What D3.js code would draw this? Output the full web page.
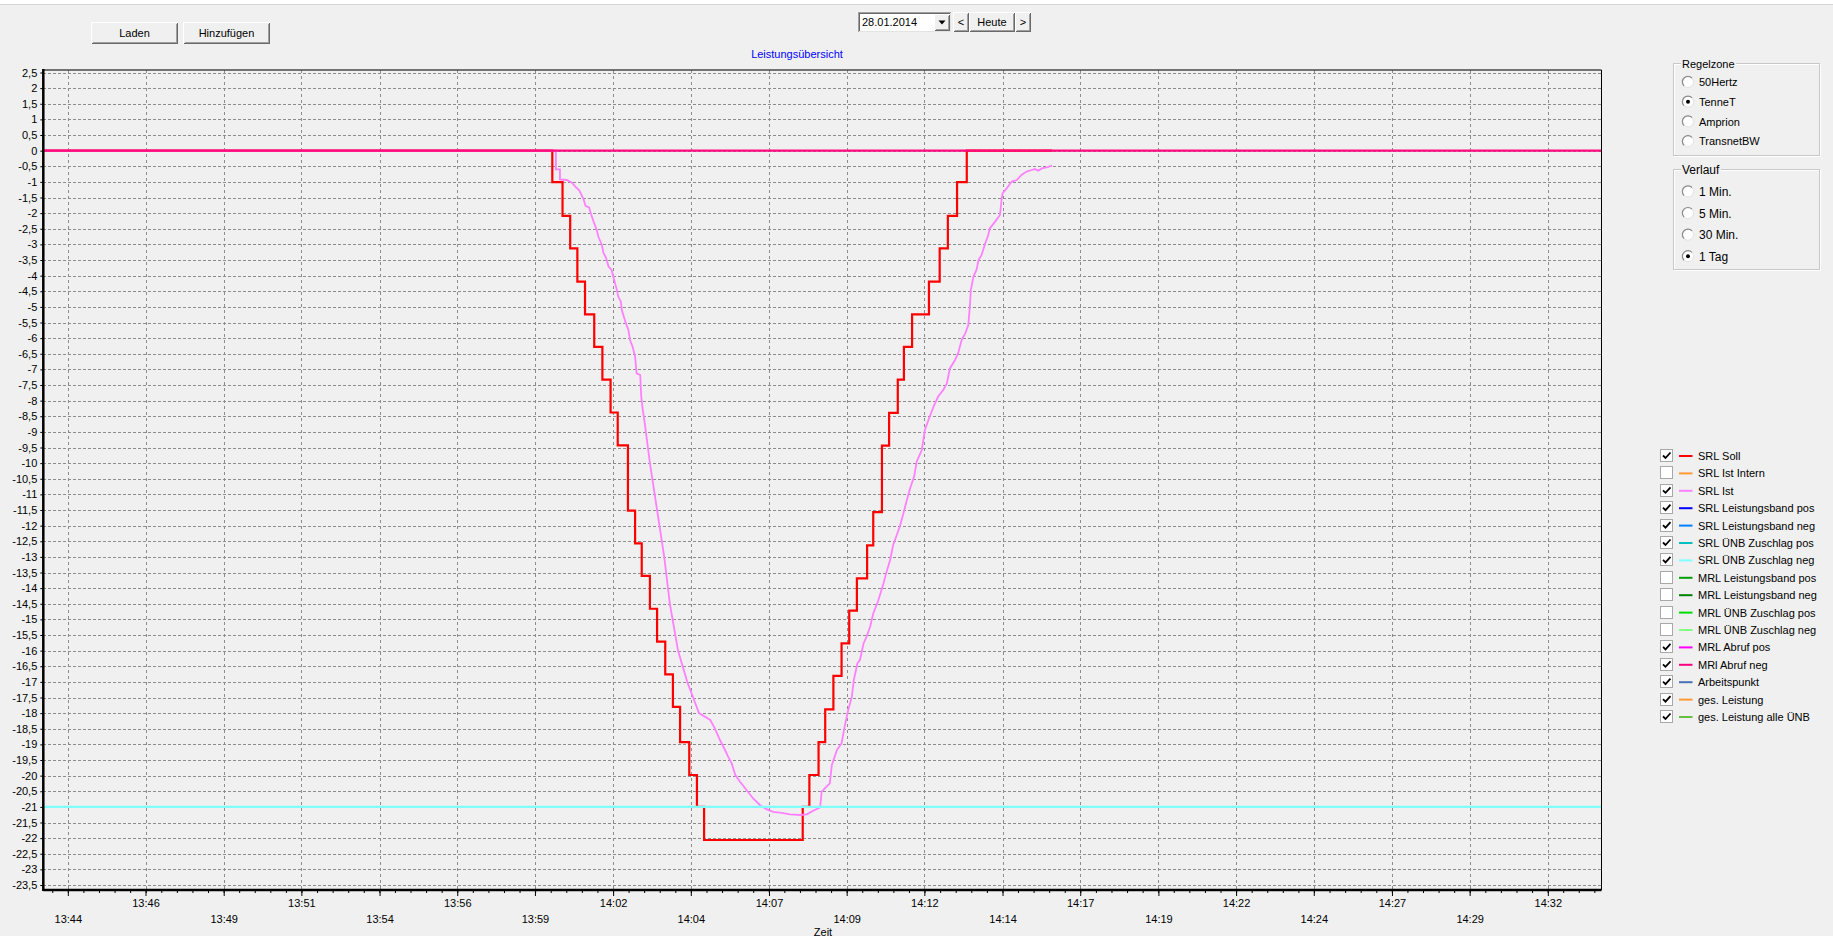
<!DOCTYPE html>
<html>
<head>
<meta charset="utf-8">
<script src="https://cdnjs.cloudflare.com/ajax/libs/d3/7.8.5/d3.min.js"></script>
<style>
body { margin: 0; background: #f0f0f0; overflow: hidden; }
svg text { font-family: "Liberation Sans", Arial, sans-serif; font-size: 11px; fill: #000; }
</style>
</head>
<body>
<div class="chart"></div>
<script>
// ---- data (times = seconds after 13:00:00 on 28.01.2014) ----
var sollTime = [2607, 3603, 3623, 3638, 3652, 3667, 3685, 3701, 3717, 3731, 3751, 3765, 3778, 3794, 3808, 3824, 3839, 3853, 3871, 3886, 3900,
	4093, 4106, 4124, 4137, 4153, 4169, 4184, 4199, 4219, 4231, 4248, 4262, 4279, 4291, 4307, 4340, 4361, 4377, 4395, 4414, 4581];
var sollValue = [0, -1.01, -2.09, -3.13, -4.19, -5.24, -6.28, -7.33, -8.38, -9.43, -11.52, -12.57, -13.61, -14.66, -15.71, -16.76, -17.8, -18.93, -19.98, -21.0, -22.06,
	-21.0, -19.98, -18.93, -17.88, -16.81, -15.77, -14.72, -13.69, -12.63, -11.57, -9.44, -8.39, -7.33, -6.28, -5.24, -4.19, -3.13, -2.09, -1.01, 0, 0];

var istTime = [2607, 3610, 3610, 3618, 3618, 3631, 3641, 3648, 3656, 3664, 3668, 3675, 3679, 3685, 3690, 3693, 3700, 3703, 3708, 3713,
	3719, 3724, 3729, 3732, 3737, 3739, 3747, 3752, 3755, 3760, 3765, 3768, 3775, 3777, 3780, 3783, 3794, 3808, 3822, 3833,
	3849, 3867, 3890, 3912, 3921, 3931, 3941, 3947, 3954, 3961, 3970, 3983, 3996, 4009, 4023, 4035, 4052, 4068, 4088, 4101,
	4114, 4127, 4130, 4146, 4150, 4160, 4169, 4175, 4182, 4189, 4193, 4200, 4205, 4212, 4218, 4225, 4231, 4241, 4251, 4257,
	4264, 4270, 4277, 4283, 4290, 4296, 4303, 4311, 4316, 4326, 4332, 4339, 4349, 4358, 4368, 4375, 4381, 4391, 4397, 4404,
	4411, 4417, 4420, 4422, 4427, 4433, 4437, 4443, 4450, 4456, 4459, 4469, 4479, 4482, 4484, 4492, 4502, 4512, 4521, 4531,
	4541, 4547, 4554, 4561, 4570, 4581];
var istValue = [0, 0, -0.6, -0.6, -0.92, -0.94, -1.02, -1.15, -1.28, -1.55, -1.77, -1.82, -2.04, -2.33, -2.54, -2.75, -3.02, -3.27, -3.42, -3.71,
	-3.82, -4.14, -4.44, -4.67, -4.83, -5.1, -5.53, -5.74, -6.06, -6.27, -6.59, -7.13, -7.18, -7.87, -8.3, -8.62, -10, -11.5, -13, -14.5,
	-16, -17, -18, -18.22, -18.49, -18.86, -19.18, -19.39, -19.61, -19.98, -20.19, -20.46, -20.73, -20.94, -21.08, -21.16, -21.19, -21.24, -21.26, -21.24,
	-21.12, -21.02, -20.51, -20.25, -19.66, -19.18, -18.97, -18.43, -17.9, -17.48, -16.94, -16.41, -16.3, -15.77, -15.55, -15.23, -14.81, -14.39, -13.85, -13.48,
	-13.1, -12.62, -12.3, -12.03, -11.61, -11.23, -10.81, -10.43, -9.95, -9.58, -8.94, -8.62, -8.19, -7.87, -7.66, -7.45, -6.97, -6.7, -6.49, -6.06,
	-5.85, -5.58, -4.99, -4.46, -4.03, -3.82, -3.5, -3.34, -2.97, -2.7, -2.49, -2.28, -2.06, -1.58, -1.37, -1.21, -0.99, -0.94, -0.78, -0.67,
	-0.62, -0.59, -0.64, -0.57, -0.54, -0.48];

var zuschlagNegTime = [2607, 5656];
var zuschlagNegValue = [-21, -21];
var abrufNegTime = [2607, 5656];
var abrufNegValue = [0, 0];

var xTickTime = [2655, 2807, 2960, 3112, 3265, 3417, 3569, 3722, 3874, 4027, 4179, 4331, 4484, 4636, 4789, 4941, 5093, 5246, 5398, 5551];
var xTickLabels = ["13:44", "13:46", "13:49", "13:51", "13:54", "13:56", "13:59", "14:02", "14:04", "14:07",
	"14:09", "14:12", "14:14", "14:17", "14:19", "14:22", "14:24", "14:27", "14:29", "14:32"];

var legendNames = ["SRL Soll", "SRL Ist Intern", "SRL Ist", "SRL Leistungsband pos", "SRL Leistungsband neg",
	"SRL ÜNB Zuschlag pos", "SRL ÜNB Zuschlag neg", "MRL Leistungsband pos", "MRL Leistungsband neg",
	"MRL ÜNB Zuschlag pos", "MRL ÜNB Zuschlag neg", "MRL Abruf pos", "MRl Abruf neg", "Arbeitspunkt",
	"ges. Leistung", "ges. Leistung alle ÜNB"];
var legendChecked = [1, 0, 1, 1, 1, 1, 1, 0, 0, 0, 0, 1, 1, 1, 1, 1];

var regelzonen = ["50Hertz", "TenneT", "Amprion", "TransnetBW"];
var verlaufOptions = ["1 Min.", "5 Min.", "30 Min.", "1 Tag"];

// ---- styles ----
var legendColors = ["#ff0000", "#ff9933", "#ff80ff", "#0000ff", "#0080ff", "#00c0c0", "#80ffff", "#00a000",
	"#008000", "#00dd00", "#80ff80", "#ff00ff", "#ff0080", "#4a6fb5", "#ff9933", "#66c040"];

var W = 1833, H = 936;
var plot = {left: 43.3, right: 1601.5, top: 70, bottom: 890};
var base = new Date(2014, 0, 28, 13, 0, 0);
function sec(s) { return new Date(base.getTime() + s * 1000); }

var svg = d3.select(".chart")
	.append("svg")
	.attr("width", W)
	.attr("height", H);

svg.append("rect").attr("width", W).attr("height", H).attr("fill", "#f0f0f0");
// window top strip
svg.append("rect").attr("width", W).attr("height", 4).attr("fill", "#ffffff");
svg.append("line").attr("x1", 0).attr("x2", W).attr("y1", 4.5).attr("y2", 4.5)
	.attr("stroke", "#d4d4d4");

var x = d3.scaleTime()
	.domain([sec(2607), sec(5656)])
	.range([plot.left, plot.right]);

var y = d3.scaleLinear()
	.domain([-23.5, 2.5])
	.range([885, 72.5]);

var yTicks = d3.range(5, -48, -1).map(function(k) { return k / 2; });

// grid
var grid = svg.append("g").attr("shape-rendering", "crispEdges");
grid.selectAll(".hgrid").data(yTicks).join("line")
	.attr("class", "hgrid")
	.attr("x1", plot.left).attr("x2", plot.right)
	.attr("y1", function(d) { return Math.round(y(d)) + 0.5; })
	.attr("y2", function(d) { return Math.round(y(d)) + 0.5; })
	.attr("stroke", "#8c8c8c")
	.attr("stroke-dasharray", "3,2");
grid.selectAll(".vgrid").data(xTickTime).join("line")
	.attr("class", "vgrid")
	.attr("x1", function(d) { return Math.round(x(sec(d))) + 0.5; })
	.attr("x2", function(d) { return Math.round(x(sec(d))) + 0.5; })
	.attr("y1", plot.top).attr("y2", plot.bottom)
	.attr("stroke", "#8c8c8c")
	.attr("stroke-dasharray", "3,3");

// series
function series(times, values) {
	return times.map(function(t, i) { return {t: sec(t), v: values[i]}; });
}
var line = d3.line()
	.x(function(d) { return x(d.t); })
	.y(function(d) { return y(d.v); });

svg.append("path")
	.datum(series(sollTime, sollValue))
	.attr("fill", "none")
	.attr("stroke", "#ff0000")
	.attr("stroke-width", 2.2)
	.attr("d", line.curve(d3.curveStepAfter));

line.curve(d3.curveLinear);

svg.append("path")
	.datum(series(istTime, istValue))
	.attr("fill", "none")
	.attr("stroke", "#ff80ff")
	.attr("stroke-width", 1.8)
	.attr("d", line);

svg.append("path")
	.datum(series(zuschlagNegTime, zuschlagNegValue))
	.attr("fill", "none")
	.attr("stroke", "#80ffff")
	.attr("stroke-width", 2.2)
	.attr("d", line);

svg.append("path")
	.datum(series(abrufNegTime, abrufNegValue))
	.attr("fill", "none")
	.attr("stroke", "#ff0a80")
	.attr("stroke-width", 2.4)
	.attr("d", line);

// axes
var yAxis = svg.append("g")
	.attr("transform", "translate(" + plot.left + ",0)")
	.call(d3.axisLeft(y).tickValues(yTicks).tickSize(3).tickPadding(3)
		.tickFormat(function(d) { return String(d).replace(".", ","); }));
yAxis.select(".domain").remove();
yAxis.selectAll("text").style("font-size", "11px").attr("fill", "#000");
yAxis.selectAll("line").attr("stroke", "#000");

var minorTicks = d3.range(2624.5, 5656, 30.48).map(sec);
var xMinor = svg.append("g")
	.attr("transform", "translate(0," + plot.bottom + ")")
	.call(d3.axisBottom(x).tickValues(minorTicks).tickSize(3).tickFormat(""));
xMinor.select(".domain").remove();

var xAxis = svg.append("g")
	.attr("transform", "translate(0," + plot.bottom + ")")
	.call(d3.axisBottom(x).tickValues(xTickTime.map(sec)).tickSize(6)
		.tickFormat(function(d, i) { return xTickLabels[i]; }));
xAxis.select(".domain").remove();
xAxis.selectAll("text")
	.attr("fill", "#000")
	.style("font-size", "11px")
	.attr("y", function(d, i) { return i % 2 ? 9.5 : 25; });

// frame
svg.append("line").attr("x1", plot.left).attr("x2", plot.right).attr("y1", plot.top).attr("y2", plot.top)
	.attr("stroke", "#4a4a4a").attr("stroke-width", 1.5);
svg.append("line").attr("x1", plot.right).attr("x2", plot.right).attr("y1", plot.top).attr("y2", plot.bottom)
	.attr("stroke", "#000").attr("stroke-width", 1);
svg.append("line").attr("x1", plot.left).attr("x2", plot.left).attr("y1", plot.top - 1).attr("y2", plot.bottom + 1)
	.attr("stroke", "#000").attr("stroke-width", 2.5);
svg.append("line").attr("x1", plot.left).attr("x2", plot.right).attr("y1", plot.bottom).attr("y2", plot.bottom)
	.attr("stroke", "#000").attr("stroke-width", 2.5);

svg.append("text").attr("x", 823).attr("y", 935.5).attr("text-anchor", "middle").text("Zeit");
svg.append("text").attr("x", 797).attr("y", 58).attr("text-anchor", "middle")
	.style("fill", "#0000ff").text("Leistungsübersicht");

// ---- form controls ----
function button(x0, y0, w, h, label) {
	var g = svg.append("g").attr("shape-rendering", "crispEdges");
	g.append("rect").attr("x", x0).attr("y", y0).attr("width", w).attr("height", h).attr("fill", "#f0f0f0");
	g.append("path").attr("d", "M" + (x0 + 0.5) + "," + (y0 + h - 0.5) + "V" + (y0 + 0.5) + "H" + (x0 + w - 0.5))
		.attr("fill", "none").attr("stroke", "#ffffff");
	g.append("path").attr("d", "M" + (x0 + 0.5) + "," + (y0 + h - 0.5) + "H" + (x0 + w - 0.5) + "V" + (y0 + 0.5))
		.attr("fill", "none").attr("stroke", "#696969");
	g.append("path").attr("d", "M" + (x0 + 1.5) + "," + (y0 + h - 1.5) + "H" + (x0 + w - 1.5) + "V" + (y0 + 1.5))
		.attr("fill", "none").attr("stroke", "#a0a0a0");
	if (label) {
		g.append("text").attr("x", x0 + w / 2).attr("y", y0 + h / 2 + 4).attr("text-anchor", "middle").text(label);
	}
	return g;
}

button(91, 22, 87, 22, "Laden");
button(183, 22, 87, 22, "Hinzufügen");

// date picker
var dp = svg.append("g").attr("shape-rendering", "crispEdges");
dp.append("rect").attr("x", 858).attr("y", 12).attr("width", 93).attr("height", 20).attr("fill", "#fff");
dp.append("path").attr("d", "M858.5,31.5V12.5H950.5").attr("fill", "none").attr("stroke", "#a0a0a0");
dp.append("path").attr("d", "M859.5,30.5V13.5H949.5").attr("fill", "none").attr("stroke", "#696969");
dp.append("path").attr("d", "M858.5,31.5H950.5V12.5").attr("fill", "none").attr("stroke", "#e3e3e3");
dp.append("text").attr("x", 862).attr("y", 26).text("28.01.2014");
button(934, 14, 16, 17, "");
svg.append("path").attr("d", "M938.5,20.5h7l-3.5,4z").attr("fill", "#000");
button(953, 12, 16, 20, "<");
button(969, 12, 46, 20, "Heute");
button(1015, 12, 16, 20, ">");

// radios
function radio(cx, cy, checked) {
	var g = svg.append("g");
	g.append("circle").attr("cx", cx).attr("cy", cy).attr("r", 5.5).attr("fill", "#fff").attr("stroke", "#e3e3e3");
	g.append("path")
		.attr("d", d3.arc()({innerRadius: 5, outerRadius: 6.2, startAngle: -Math.PI * 0.75, endAngle: Math.PI * 0.25}))
		.attr("transform", "translate(" + cx + "," + cy + ")")
		.attr("fill", "#8a8a8a");
	if (checked) {
		g.append("circle").attr("cx", cx).attr("cy", cy).attr("r", 2).attr("fill", "#000");
	}
}

function groupBox(x0, y0, x1, y1, title, titleSize) {
	var g = svg.append("g").attr("shape-rendering", "crispEdges");
	g.append("rect").attr("x", x0 + 0.5).attr("y", y0 + 0.5).attr("width", x1 - x0).attr("height", y1 - y0)
		.attr("fill", "none").attr("stroke", "#ffffff");
	g.append("rect").attr("x", x0 - 0.5).attr("y", y0 - 0.5).attr("width", x1 - x0).attr("height", y1 - y0)
		.attr("fill", "none").attr("stroke", "#c8c8c8");
	var t = g.append("text").attr("x", x0 + 8).attr("y", y0 + 4).style("font-size", titleSize + "px").text(title);
	var bb = t.node().getBBox();
	g.insert("rect", "text").attr("x", bb.x - 1).attr("y", y0 - 3).attr("width", bb.width + 2).attr("height", 6)
		.attr("fill", "#f0f0f0");
}

groupBox(1674, 64, 1820, 156, "Regelzone", 11);
regelzonen.forEach(function(d, i) {
	var cy = [82, 101.7, 121.5, 141.3][i];
	radio(1688, cy, i === 1);
	svg.append("text").attr("x", 1699).attr("y", cy + 4).text(d);
});

groupBox(1674, 170, 1820, 270, "Verlauf", 12);
verlaufOptions.forEach(function(d, i) {
	var cy = 191.5 + i * 21.6;
	radio(1688, cy, i === 3);
	svg.append("text").attr("x", 1699).attr("y", cy + 4.5).style("font-size", "12px").text(d);
});

// legend
var legend = svg.append("g").attr("class", "legend");
var rows = legend.selectAll("g").data(legendNames).join("g")
	.attr("transform", function(d, i) { return "translate(0," + (456 + i * 17.4) + ")"; });
rows.append("rect").attr("x", 1660.5).attr("y", -6.5).attr("width", 12).attr("height", 12)
	.attr("fill", "#fff").attr("stroke", "#a8a8a8").attr("shape-rendering", "crispEdges");
rows.filter(function(d, i) { return legendChecked[i]; })
	.append("path").attr("d", "M1663,-0.5l2.5,2.5l5,-5.5")
	.attr("fill", "none").attr("stroke", "#000").attr("stroke-width", 1.8);
rows.append("line").attr("x1", 1679).attr("x2", 1692.5).attr("y1", 0).attr("y2", 0)
	.attr("stroke", function(d, i) { return legendColors[i]; }).attr("stroke-width", 2);
rows.append("text").attr("x", 1698).attr("y", 4).text(function(d) { return d; });
</script>
</body>
</html>
